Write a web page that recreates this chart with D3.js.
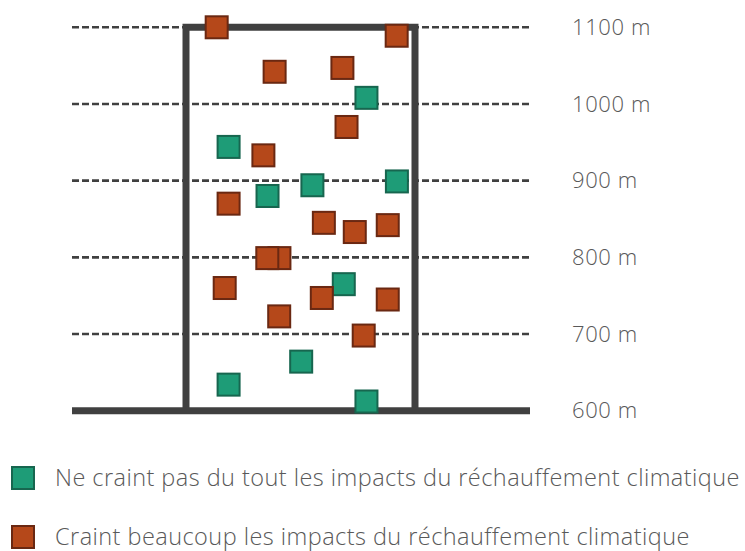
<!DOCTYPE html>
<html>
<head>
<meta charset="utf-8">
<script src="https://cdn.jsdelivr.net/npm/d3@7"></script>
<style>
  html, body { margin: 0; padding: 0; background: #fff; }
  svg { display: block; }
</style>
</head>
<body>
<svg id="chart" width="745" height="551"></svg>
<script>
// ---- data ----
const altitudeTicks = [600, 700, 800, 900, 1000, 1100];
const tickLabels = ["600 m", "700 m", "800 m", "900 m", "1000 m", "1100 m"];
const categories = ["Ne craint pas du tout les impacts du réchauffement climatique",
                    "Craint beaucoup les impacts du réchauffement climatique"];
// green series: horizontal position (0-100 within the box), altitude (m)
const greenX   = [78.8, 18.6, 35.6, 55.2, 92.1, 68.9, 50.3, 18.6, 78.8];
const greenAlt = [1008, 944, 880, 894, 899, 765, 664, 634, 612];
// orange series
const orangeX   = [13.4, 92.0, 38.7, 68.3, 70.1, 33.8, 18.6, 60.2, 73.7, 88.1, 40.8, 35.5, 16.9, 59.3, 88.1, 40.7, 77.6];
const orangeAlt = [1100, 1089, 1042, 1047, 970, 933, 870, 845, 833, 842, 799, 799, 760, 747, 745, 723, 698];

// ---- styles ----
const lineColor = "#404040";
const textColor = "#595959";
const greenFill = "#1E9C77", greenStroke = "#17664F";
const orangeFill = "#B5481A", orangeStroke = "#6A2812";
const font = "'Open Sans', Lato, sans-serif";

const svg = d3.select("#chart");
const y = d3.scaleLinear().domain([600, 1100]).range([410.7, 27.3]);
const x = d3.scaleLinear().domain([0, 100]).range([186, 415]);
const lineX0 = 72, lineX1 = 530;

// dashed gridlines
svg.append("g").selectAll("line")
  .data(altitudeTicks.filter(d => d > 600))
  .join("line")
  .attr("x1", lineX0).attr("x2", lineX1)
  .attr("y1", d => y(d)).attr("y2", d => y(d))
  .attr("stroke", lineColor)
  .attr("stroke-width", 2.6)
  .attr("stroke-dasharray", "7,3");

// box (building)
svg.append("path")
  .attr("d", `M${x(0)},${y(600)} V${y(1100)} H${x(100)} V${y(600)}`)
  .attr("fill", "none")
  .attr("stroke", lineColor)
  .attr("stroke-width", 7)
  .attr("stroke-linejoin", "miter");

// ground
svg.append("line")
  .attr("x1", lineX0).attr("x2", lineX1)
  .attr("y1", y(600)).attr("y2", y(600))
  .attr("stroke", lineColor)
  .attr("stroke-width", 7);

// tick labels
svg.append("g").selectAll("text")
  .data(altitudeTicks)
  .join("text")
  .attr("x", 572)
  .attr("y", d => y(d))
  .attr("dy", "0.35em")
  .attr("font-family", font)
  .attr("font-weight", 300)
  .attr("font-size", 22)
  .attr("letter-spacing", 0.6)
  .attr("fill", textColor)
  .text((d, i) => tickLabels[i]);

// points
const sq = 22;
function drawSeries(xs, alts, fill, stroke) {
  svg.append("g").selectAll("rect")
    .data(xs.map((v, i) => ({ x: v, a: alts[i] })))
    .join("rect")
    .attr("x", d => x(d.x) - sq / 2)
    .attr("y", d => y(d.a) - sq / 2)
    .attr("width", sq).attr("height", sq)
    .attr("fill", fill)
    .attr("stroke", stroke)
    .attr("stroke-width", 2);
}
drawSeries(greenX, greenAlt, greenFill, greenStroke);
drawSeries(orangeX, orangeAlt, orangeFill, orangeStroke);

// legend
const legend = svg.append("g").selectAll("g")
  .data(categories.map((c, i) => ({ c, i })))
  .join("g")
  .attr("transform", d => `translate(0, ${d.i * 59})`);
legend.append("rect")
  .attr("x", 12).attr("y", 467)
  .attr("width", 22).attr("height", 22)
  .attr("fill", d => d.i === 0 ? greenFill : orangeFill)
  .attr("stroke", d => d.i === 0 ? greenStroke : orangeStroke)
  .attr("stroke-width", 2);
legend.append("text")
  .attr("x", 55).attr("y", 486)
  .attr("font-family", font)
  .attr("font-weight", 300)
  .attr("font-size", 23.5)
  .attr("letter-spacing", 0.45)
  .attr("fill", textColor)
  .text(d => d.c);
</script>
</body>
</html>
